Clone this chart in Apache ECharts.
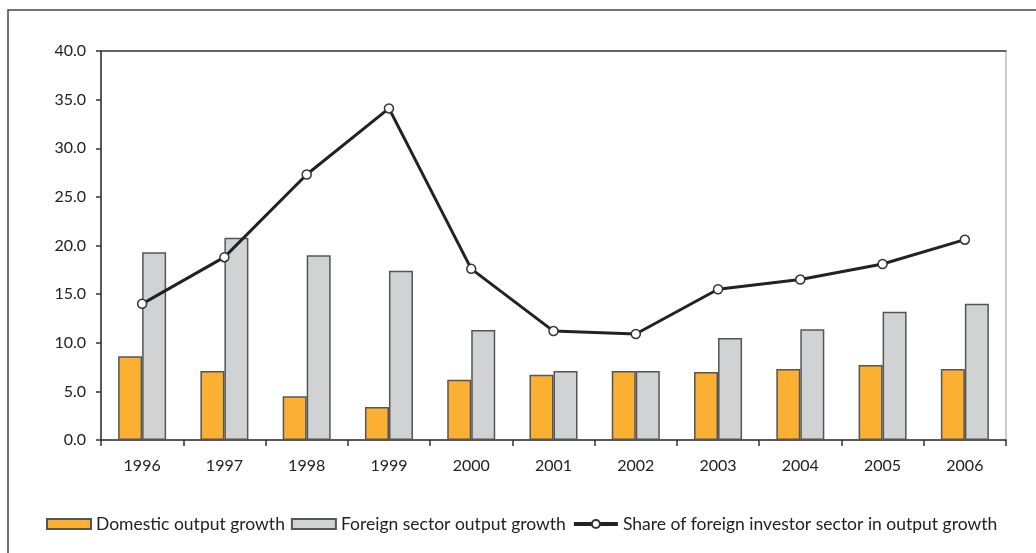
<!DOCTYPE html>
<html>
<head>
<meta charset="utf-8">
<script src="https://cdn.jsdelivr.net/npm/echarts@6/dist/echarts.min.js"></script>
<style>
  html, body { margin: 0; padding: 0; background: #fff; }
  #chart { width: 1036px; height: 553px; }
</style>
</head>
<body>
<div id="chart"></div>
<script>
// data
var years = ['1996', '1997', '1998', '1999', '2000', '2001', '2002', '2003', '2004', '2005', '2006']
var domesticGrowth = [8.6, 7.1, 4.5, 3.4, 6.2, 6.7, 7.1, 7.0, 7.3, 7.7, 7.3]
var foreignGrowth = [19.3, 20.8, 19.0, 17.4, 11.3, 7.1, 7.1, 10.5, 11.4, 13.2, 14.0]
var foreignShare = [14.0, 18.8, 27.3, 34.1, 17.6, 11.2, 10.9, 15.5, 16.5, 18.1, 20.6]

var font = 'Lato'
var textColor = '#222'

var chart = echarts.init(document.getElementById('chart'))

chart.setOption({
  animation: false,
  textStyle: { fontFamily: font, color: textColor },
  graphic: [
    {
      type: 'rect',
      shape: { x: 8, y: 10, width: 1100, height: 600 },
      style: { fill: 'none', stroke: '#444', lineWidth: 1.5 },
      silent: true
    }
  ],
  grid: {
    left: 101,
    right: 30,
    top: 51,
    bottom: 113,
    show: true,
    borderColor: '#999',
    borderWidth: 1
  },
  legend: {
    left: 41,
    top: 510,
    itemWidth: 44,
    itemHeight: 10,
    itemGap: 6,
    textStyle: { fontFamily: font, fontSize: 17.5, color: textColor },
    data: [
      { name: 'Domestic output growth', icon: 'rect' },
      { name: 'Foreign sector output growth', icon: 'rect' },
      { name: 'Share of foreign investor sector in output growth', lineStyle: { width: 4 } }
    ]
  },
  xAxis: [
    {
      type: 'category',
      data: years,
      axisLine: { lineStyle: { color: '#333', width: 1.5 } },
      axisTick: { show: true, length: 6, lineStyle: { color: '#333', width: 1.5 } },
      axisLabel: { fontFamily: font, fontSize: 16, color: textColor, margin: 18 }
    },
    {
      type: 'category',
      data: years,
      position: 'top',
      axisLine: { lineStyle: { color: '#444', width: 1.5 } },
      axisTick: { show: false },
      axisLabel: { show: false }
    }
  ],
  yAxis: {
    type: 'value',
    min: 0,
    max: 40,
    interval: 5,
    axisLine: { show: true, lineStyle: { color: '#333', width: 1.5 } },
    axisTick: { show: true, length: 5, lineStyle: { color: '#333', width: 1.5 } },
    splitLine: { show: false },
    axisLabel: {
      fontFamily: font,
      fontSize: 16,
      color: textColor,
      margin: 15,
      formatter: function (v) { return v.toFixed(1) }
    }
  },
  series: [
    {
      name: 'Domestic output growth',
      type: 'bar',
      data: domesticGrowth,
      barWidth: 24,
      barGap: '0%',
      itemStyle: { color: '#FBB034', borderColor: '#555', borderWidth: 1.5 }
    },
    {
      name: 'Foreign sector output growth',
      type: 'bar',
      data: foreignGrowth,
      barWidth: 24,
      barGap: '0%',
      itemStyle: { color: '#D1D2D4', borderColor: '#555', borderWidth: 1.5 }
    },
    {
      name: 'Share of foreign investor sector in output growth',
      type: 'line',
      data: foreignShare,
      symbol: 'circle',
      symbolSize: 9,
      lineStyle: { color: '#222', width: 3 },
      itemStyle: { color: '#fff', borderColor: '#333', borderWidth: 1.5 },
      z: 5
    }
  ]
})
</script>
</body>
</html>
